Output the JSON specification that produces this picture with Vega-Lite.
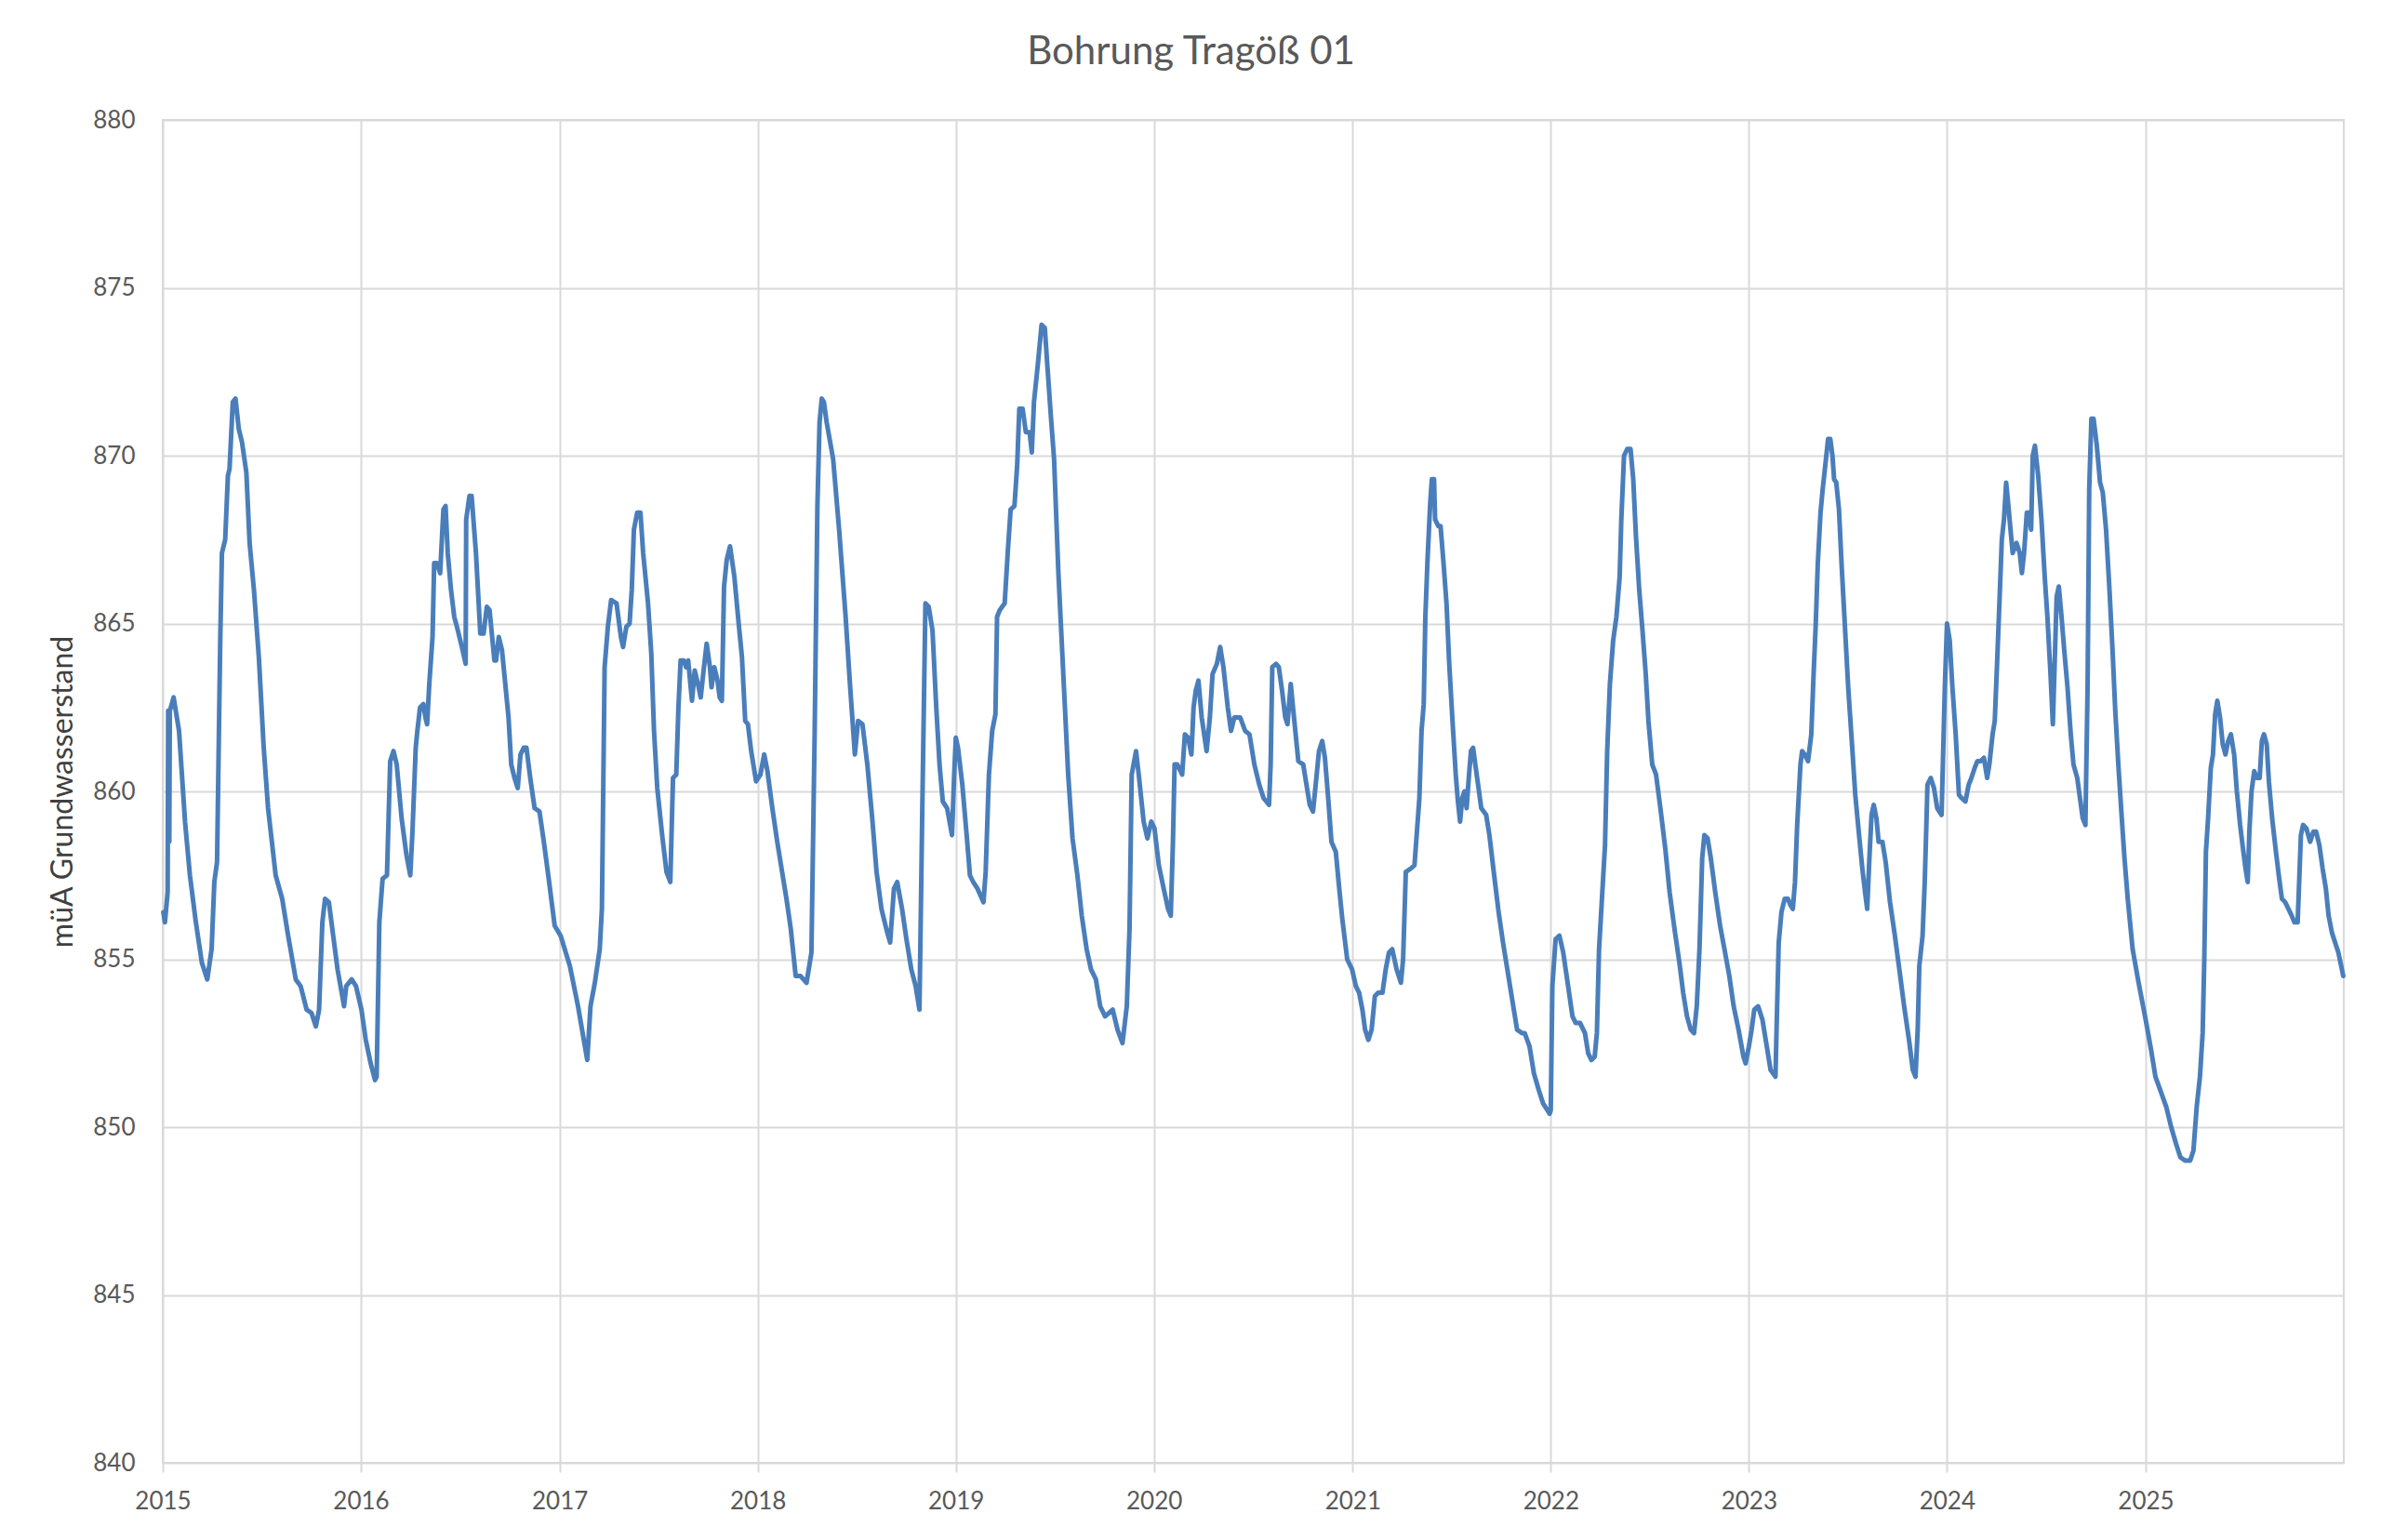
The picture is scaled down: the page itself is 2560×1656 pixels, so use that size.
{
  "$schema": "https://vega.github.io/schema/vega-lite/v6.json",
  "autosize": {"type": "none"},
  "width": 2345,
  "height": 1444,
  "padding": {"left": 175, "top": 129, "right": 40, "bottom": 83},
  "background": "#ffffff",
  "title": {
    "text": "Bohrung Tragöß 01",
    "font": "Lato",
    "fontSize": 42,
    "fontWeight": "normal",
    "color": "#595959",
    "anchor": "middle",
    "dx": -67,
    "offset": 5,
    "baseline": "alphabetic"
  },
  "data": {
    "values": [
      {"Datum": "2015-01-02", "Wasserstand": 856.4},
      {"Datum": "2015-01-05", "Wasserstand": 856.1},
      {"Datum": "2015-01-10", "Wasserstand": 857.0},
      {"Datum": "2015-01-11", "Wasserstand": 862.4},
      {"Datum": "2015-01-13", "Wasserstand": 858.5},
      {"Datum": "2015-01-14", "Wasserstand": 862.4},
      {"Datum": "2015-01-21", "Wasserstand": 862.8},
      {"Datum": "2015-01-31", "Wasserstand": 861.8},
      {"Datum": "2015-02-11", "Wasserstand": 859.1},
      {"Datum": "2015-02-20", "Wasserstand": 857.5},
      {"Datum": "2015-03-03", "Wasserstand": 856.1},
      {"Datum": "2015-03-14", "Wasserstand": 854.9},
      {"Datum": "2015-03-24", "Wasserstand": 854.4},
      {"Datum": "2015-04-01", "Wasserstand": 855.3},
      {"Datum": "2015-04-06", "Wasserstand": 857.3},
      {"Datum": "2015-04-11", "Wasserstand": 857.9},
      {"Datum": "2015-04-17", "Wasserstand": 864.6},
      {"Datum": "2015-04-20", "Wasserstand": 867.1},
      {"Datum": "2015-04-26", "Wasserstand": 867.5},
      {"Datum": "2015-05-01", "Wasserstand": 869.4},
      {"Datum": "2015-05-04", "Wasserstand": 869.6},
      {"Datum": "2015-05-10", "Wasserstand": 871.6},
      {"Datum": "2015-05-15", "Wasserstand": 871.7},
      {"Datum": "2015-05-21", "Wasserstand": 870.8},
      {"Datum": "2015-05-27", "Wasserstand": 870.4},
      {"Datum": "2015-06-04", "Wasserstand": 869.5},
      {"Datum": "2015-06-10", "Wasserstand": 867.4},
      {"Datum": "2015-06-18", "Wasserstand": 866.0},
      {"Datum": "2015-06-27", "Wasserstand": 864.0},
      {"Datum": "2015-07-06", "Wasserstand": 861.3},
      {"Datum": "2015-07-14", "Wasserstand": 859.5},
      {"Datum": "2015-07-28", "Wasserstand": 857.5},
      {"Datum": "2015-08-09", "Wasserstand": 856.8},
      {"Datum": "2015-08-20", "Wasserstand": 855.7},
      {"Datum": "2015-09-03", "Wasserstand": 854.4},
      {"Datum": "2015-09-12", "Wasserstand": 854.2},
      {"Datum": "2015-09-23", "Wasserstand": 853.5},
      {"Datum": "2015-10-02", "Wasserstand": 853.4},
      {"Datum": "2015-10-10", "Wasserstand": 853.0},
      {"Datum": "2015-10-16", "Wasserstand": 853.5},
      {"Datum": "2015-10-22", "Wasserstand": 856.1},
      {"Datum": "2015-10-27", "Wasserstand": 856.8},
      {"Datum": "2015-11-03", "Wasserstand": 856.7},
      {"Datum": "2015-11-11", "Wasserstand": 855.7},
      {"Datum": "2015-11-19", "Wasserstand": 854.7},
      {"Datum": "2015-12-01", "Wasserstand": 853.6},
      {"Datum": "2015-12-05", "Wasserstand": 854.2},
      {"Datum": "2015-12-15", "Wasserstand": 854.4},
      {"Datum": "2015-12-23", "Wasserstand": 854.2},
      {"Datum": "2016-01-02", "Wasserstand": 853.5},
      {"Datum": "2016-01-10", "Wasserstand": 852.6},
      {"Datum": "2016-01-19", "Wasserstand": 851.9},
      {"Datum": "2016-01-27", "Wasserstand": 851.4},
      {"Datum": "2016-01-30", "Wasserstand": 851.5},
      {"Datum": "2016-02-04", "Wasserstand": 856.1},
      {"Datum": "2016-02-10", "Wasserstand": 857.4},
      {"Datum": "2016-02-18", "Wasserstand": 857.5},
      {"Datum": "2016-02-24", "Wasserstand": 860.9},
      {"Datum": "2016-03-01", "Wasserstand": 861.2},
      {"Datum": "2016-03-07", "Wasserstand": 860.8},
      {"Datum": "2016-03-16", "Wasserstand": 859.2},
      {"Datum": "2016-03-25", "Wasserstand": 858.1},
      {"Datum": "2016-04-01", "Wasserstand": 857.5},
      {"Datum": "2016-04-05", "Wasserstand": 858.8},
      {"Datum": "2016-04-11", "Wasserstand": 861.3},
      {"Datum": "2016-04-14", "Wasserstand": 861.8},
      {"Datum": "2016-04-19", "Wasserstand": 862.5},
      {"Datum": "2016-04-25", "Wasserstand": 862.6},
      {"Datum": "2016-04-29", "Wasserstand": 862.2},
      {"Datum": "2016-05-02", "Wasserstand": 862.0},
      {"Datum": "2016-05-06", "Wasserstand": 863.2},
      {"Datum": "2016-05-12", "Wasserstand": 864.6},
      {"Datum": "2016-05-15", "Wasserstand": 866.8},
      {"Datum": "2016-05-20", "Wasserstand": 866.8},
      {"Datum": "2016-05-26", "Wasserstand": 866.5},
      {"Datum": "2016-06-01", "Wasserstand": 868.4},
      {"Datum": "2016-06-05", "Wasserstand": 868.5},
      {"Datum": "2016-06-09", "Wasserstand": 867.1},
      {"Datum": "2016-06-15", "Wasserstand": 866.0},
      {"Datum": "2016-06-21", "Wasserstand": 865.2},
      {"Datum": "2016-06-26", "Wasserstand": 864.9},
      {"Datum": "2016-07-05", "Wasserstand": 864.3},
      {"Datum": "2016-07-12", "Wasserstand": 863.8},
      {"Datum": "2016-07-13", "Wasserstand": 868.1},
      {"Datum": "2016-07-19", "Wasserstand": 868.8},
      {"Datum": "2016-07-23", "Wasserstand": 868.8},
      {"Datum": "2016-07-31", "Wasserstand": 867.1},
      {"Datum": "2016-08-08", "Wasserstand": 864.7},
      {"Datum": "2016-08-14", "Wasserstand": 864.7},
      {"Datum": "2016-08-20", "Wasserstand": 865.5},
      {"Datum": "2016-08-25", "Wasserstand": 865.4},
      {"Datum": "2016-09-03", "Wasserstand": 863.9},
      {"Datum": "2016-09-06", "Wasserstand": 863.9},
      {"Datum": "2016-09-11", "Wasserstand": 864.6},
      {"Datum": "2016-09-17", "Wasserstand": 864.2},
      {"Datum": "2016-09-23", "Wasserstand": 863.2},
      {"Datum": "2016-09-29", "Wasserstand": 862.2},
      {"Datum": "2016-10-04", "Wasserstand": 860.8},
      {"Datum": "2016-10-10", "Wasserstand": 860.4},
      {"Datum": "2016-10-16", "Wasserstand": 860.1},
      {"Datum": "2016-10-21", "Wasserstand": 861.1},
      {"Datum": "2016-10-27", "Wasserstand": 861.3},
      {"Datum": "2016-11-01", "Wasserstand": 861.3},
      {"Datum": "2016-11-08", "Wasserstand": 860.4},
      {"Datum": "2016-11-16", "Wasserstand": 859.5},
      {"Datum": "2016-11-25", "Wasserstand": 859.4},
      {"Datum": "2016-12-03", "Wasserstand": 858.5},
      {"Datum": "2016-12-12", "Wasserstand": 857.4},
      {"Datum": "2016-12-23", "Wasserstand": 856.0},
      {"Datum": "2017-01-03", "Wasserstand": 855.7},
      {"Datum": "2017-01-20", "Wasserstand": 854.8},
      {"Datum": "2017-02-04", "Wasserstand": 853.6},
      {"Datum": "2017-02-21", "Wasserstand": 852.0},
      {"Datum": "2017-02-27", "Wasserstand": 853.6},
      {"Datum": "2017-03-07", "Wasserstand": 854.3},
      {"Datum": "2017-03-16", "Wasserstand": 855.3},
      {"Datum": "2017-03-20", "Wasserstand": 856.5},
      {"Datum": "2017-03-25", "Wasserstand": 863.7},
      {"Datum": "2017-03-31", "Wasserstand": 864.9},
      {"Datum": "2017-04-06", "Wasserstand": 865.7},
      {"Datum": "2017-04-16", "Wasserstand": 865.6},
      {"Datum": "2017-04-24", "Wasserstand": 864.6},
      {"Datum": "2017-04-28", "Wasserstand": 864.3},
      {"Datum": "2017-05-04", "Wasserstand": 864.9},
      {"Datum": "2017-05-10", "Wasserstand": 865.0},
      {"Datum": "2017-05-14", "Wasserstand": 866.0},
      {"Datum": "2017-05-18", "Wasserstand": 867.8},
      {"Datum": "2017-05-24", "Wasserstand": 868.3},
      {"Datum": "2017-05-30", "Wasserstand": 868.3},
      {"Datum": "2017-06-04", "Wasserstand": 867.1},
      {"Datum": "2017-06-13", "Wasserstand": 865.6},
      {"Datum": "2017-06-19", "Wasserstand": 864.1},
      {"Datum": "2017-06-24", "Wasserstand": 861.8},
      {"Datum": "2017-06-30", "Wasserstand": 860.1},
      {"Datum": "2017-07-09", "Wasserstand": 858.7},
      {"Datum": "2017-07-17", "Wasserstand": 857.6},
      {"Datum": "2017-07-24", "Wasserstand": 857.3},
      {"Datum": "2017-07-29", "Wasserstand": 860.4},
      {"Datum": "2017-08-04", "Wasserstand": 860.5},
      {"Datum": "2017-08-08", "Wasserstand": 862.5},
      {"Datum": "2017-08-12", "Wasserstand": 863.9},
      {"Datum": "2017-08-18", "Wasserstand": 863.9},
      {"Datum": "2017-08-22", "Wasserstand": 863.7},
      {"Datum": "2017-08-26", "Wasserstand": 863.9},
      {"Datum": "2017-08-30", "Wasserstand": 863.2},
      {"Datum": "2017-09-02", "Wasserstand": 862.7},
      {"Datum": "2017-09-07", "Wasserstand": 863.6},
      {"Datum": "2017-09-13", "Wasserstand": 863.2},
      {"Datum": "2017-09-18", "Wasserstand": 862.8},
      {"Datum": "2017-09-24", "Wasserstand": 863.7},
      {"Datum": "2017-09-29", "Wasserstand": 864.4},
      {"Datum": "2017-10-05", "Wasserstand": 863.7},
      {"Datum": "2017-10-08", "Wasserstand": 863.1},
      {"Datum": "2017-10-13", "Wasserstand": 863.7},
      {"Datum": "2017-10-19", "Wasserstand": 863.3},
      {"Datum": "2017-10-23", "Wasserstand": 862.8},
      {"Datum": "2017-10-27", "Wasserstand": 862.7},
      {"Datum": "2017-10-31", "Wasserstand": 866.1},
      {"Datum": "2017-11-05", "Wasserstand": 866.9},
      {"Datum": "2017-11-11", "Wasserstand": 867.3},
      {"Datum": "2017-11-19", "Wasserstand": 866.4},
      {"Datum": "2017-11-27", "Wasserstand": 865.0},
      {"Datum": "2017-12-03", "Wasserstand": 864.0},
      {"Datum": "2017-12-09", "Wasserstand": 862.1},
      {"Datum": "2017-12-14", "Wasserstand": 862.0},
      {"Datum": "2017-12-20", "Wasserstand": 861.2},
      {"Datum": "2017-12-29", "Wasserstand": 860.3},
      {"Datum": "2018-01-06", "Wasserstand": 860.5},
      {"Datum": "2018-01-13", "Wasserstand": 861.1},
      {"Datum": "2018-01-19", "Wasserstand": 860.6},
      {"Datum": "2018-01-28", "Wasserstand": 859.5},
      {"Datum": "2018-02-06", "Wasserstand": 858.5},
      {"Datum": "2018-02-14", "Wasserstand": 857.7},
      {"Datum": "2018-02-23", "Wasserstand": 856.8},
      {"Datum": "2018-03-03", "Wasserstand": 855.9},
      {"Datum": "2018-03-12", "Wasserstand": 854.5},
      {"Datum": "2018-03-21", "Wasserstand": 854.5},
      {"Datum": "2018-04-01", "Wasserstand": 854.3},
      {"Datum": "2018-04-10", "Wasserstand": 855.2},
      {"Datum": "2018-04-16", "Wasserstand": 861.8},
      {"Datum": "2018-04-21", "Wasserstand": 868.5},
      {"Datum": "2018-04-25", "Wasserstand": 871.0},
      {"Datum": "2018-04-29", "Wasserstand": 871.7},
      {"Datum": "2018-05-03", "Wasserstand": 871.6},
      {"Datum": "2018-05-08", "Wasserstand": 871.0},
      {"Datum": "2018-05-20", "Wasserstand": 869.9},
      {"Datum": "2018-05-31", "Wasserstand": 867.8},
      {"Datum": "2018-06-12", "Wasserstand": 865.2},
      {"Datum": "2018-06-20", "Wasserstand": 863.2},
      {"Datum": "2018-06-29", "Wasserstand": 861.1},
      {"Datum": "2018-07-05", "Wasserstand": 862.1},
      {"Datum": "2018-07-13", "Wasserstand": 862.0},
      {"Datum": "2018-07-22", "Wasserstand": 860.8},
      {"Datum": "2018-07-31", "Wasserstand": 859.2},
      {"Datum": "2018-08-08", "Wasserstand": 857.6},
      {"Datum": "2018-08-17", "Wasserstand": 856.5},
      {"Datum": "2018-08-26", "Wasserstand": 855.9},
      {"Datum": "2018-09-02", "Wasserstand": 855.5},
      {"Datum": "2018-09-09", "Wasserstand": 857.1},
      {"Datum": "2018-09-15", "Wasserstand": 857.3},
      {"Datum": "2018-09-24", "Wasserstand": 856.5},
      {"Datum": "2018-10-02", "Wasserstand": 855.6},
      {"Datum": "2018-10-11", "Wasserstand": 854.7},
      {"Datum": "2018-10-19", "Wasserstand": 854.2},
      {"Datum": "2018-10-26", "Wasserstand": 853.5},
      {"Datum": "2018-10-31", "Wasserstand": 859.2},
      {"Datum": "2018-11-06", "Wasserstand": 865.6},
      {"Datum": "2018-11-12", "Wasserstand": 865.5},
      {"Datum": "2018-11-19", "Wasserstand": 864.8},
      {"Datum": "2018-11-26", "Wasserstand": 862.5},
      {"Datum": "2018-12-02", "Wasserstand": 860.8},
      {"Datum": "2018-12-08", "Wasserstand": 859.7},
      {"Datum": "2018-12-16", "Wasserstand": 859.5},
      {"Datum": "2018-12-25", "Wasserstand": 858.7},
      {"Datum": "2018-12-29", "Wasserstand": 860.5},
      {"Datum": "2019-01-01", "Wasserstand": 861.6},
      {"Datum": "2019-01-05", "Wasserstand": 861.3},
      {"Datum": "2019-01-13", "Wasserstand": 860.2},
      {"Datum": "2019-01-22", "Wasserstand": 858.5},
      {"Datum": "2019-01-27", "Wasserstand": 857.5},
      {"Datum": "2019-02-02", "Wasserstand": 857.3},
      {"Datum": "2019-02-10", "Wasserstand": 857.1},
      {"Datum": "2019-02-21", "Wasserstand": 856.7},
      {"Datum": "2019-02-25", "Wasserstand": 857.6},
      {"Datum": "2019-03-03", "Wasserstand": 860.5},
      {"Datum": "2019-03-09", "Wasserstand": 861.8},
      {"Datum": "2019-03-15", "Wasserstand": 862.3},
      {"Datum": "2019-03-18", "Wasserstand": 865.2},
      {"Datum": "2019-03-23", "Wasserstand": 865.4},
      {"Datum": "2019-04-01", "Wasserstand": 865.6},
      {"Datum": "2019-04-07", "Wasserstand": 867.2},
      {"Datum": "2019-04-12", "Wasserstand": 868.4},
      {"Datum": "2019-04-19", "Wasserstand": 868.5},
      {"Datum": "2019-04-24", "Wasserstand": 869.7},
      {"Datum": "2019-04-28", "Wasserstand": 871.4},
      {"Datum": "2019-05-04", "Wasserstand": 871.4},
      {"Datum": "2019-05-10", "Wasserstand": 870.7},
      {"Datum": "2019-05-17", "Wasserstand": 870.7},
      {"Datum": "2019-05-21", "Wasserstand": 870.1},
      {"Datum": "2019-05-25", "Wasserstand": 871.6},
      {"Datum": "2019-06-01", "Wasserstand": 872.7},
      {"Datum": "2019-06-08", "Wasserstand": 873.9},
      {"Datum": "2019-06-14", "Wasserstand": 873.8},
      {"Datum": "2019-06-19", "Wasserstand": 872.6},
      {"Datum": "2019-06-25", "Wasserstand": 871.2},
      {"Datum": "2019-07-01", "Wasserstand": 869.9},
      {"Datum": "2019-07-05", "Wasserstand": 868.2},
      {"Datum": "2019-07-09", "Wasserstand": 866.5},
      {"Datum": "2019-07-15", "Wasserstand": 864.5},
      {"Datum": "2019-07-21", "Wasserstand": 862.5},
      {"Datum": "2019-07-27", "Wasserstand": 860.5},
      {"Datum": "2019-08-04", "Wasserstand": 858.6},
      {"Datum": "2019-08-13", "Wasserstand": 857.5},
      {"Datum": "2019-08-21", "Wasserstand": 856.3},
      {"Datum": "2019-08-30", "Wasserstand": 855.3},
      {"Datum": "2019-09-07", "Wasserstand": 854.7},
      {"Datum": "2019-09-16", "Wasserstand": 854.4},
      {"Datum": "2019-09-24", "Wasserstand": 853.6},
      {"Datum": "2019-10-03", "Wasserstand": 853.3},
      {"Datum": "2019-10-10", "Wasserstand": 853.4},
      {"Datum": "2019-10-17", "Wasserstand": 853.5},
      {"Datum": "2019-10-26", "Wasserstand": 852.9},
      {"Datum": "2019-11-04", "Wasserstand": 852.5},
      {"Datum": "2019-11-12", "Wasserstand": 853.6},
      {"Datum": "2019-11-17", "Wasserstand": 855.9},
      {"Datum": "2019-11-21", "Wasserstand": 860.5},
      {"Datum": "2019-11-29", "Wasserstand": 861.2},
      {"Datum": "2019-12-04", "Wasserstand": 860.5},
      {"Datum": "2019-12-13", "Wasserstand": 859.1},
      {"Datum": "2019-12-20", "Wasserstand": 858.6},
      {"Datum": "2019-12-27", "Wasserstand": 859.1},
      {"Datum": "2020-01-02", "Wasserstand": 858.9},
      {"Datum": "2020-01-10", "Wasserstand": 857.8},
      {"Datum": "2020-01-19", "Wasserstand": 857.1},
      {"Datum": "2020-01-27", "Wasserstand": 856.5},
      {"Datum": "2020-02-01", "Wasserstand": 856.3},
      {"Datum": "2020-02-05", "Wasserstand": 858.5},
      {"Datum": "2020-02-08", "Wasserstand": 860.8},
      {"Datum": "2020-02-13", "Wasserstand": 860.8},
      {"Datum": "2020-02-22", "Wasserstand": 860.5},
      {"Datum": "2020-02-27", "Wasserstand": 861.7},
      {"Datum": "2020-03-04", "Wasserstand": 861.6},
      {"Datum": "2020-03-10", "Wasserstand": 861.1},
      {"Datum": "2020-03-14", "Wasserstand": 862.5},
      {"Datum": "2020-03-18", "Wasserstand": 863.0},
      {"Datum": "2020-03-23", "Wasserstand": 863.3},
      {"Datum": "2020-03-29", "Wasserstand": 862.2},
      {"Datum": "2020-04-07", "Wasserstand": 861.2},
      {"Datum": "2020-04-13", "Wasserstand": 862.2},
      {"Datum": "2020-04-18", "Wasserstand": 863.5},
      {"Datum": "2020-04-26", "Wasserstand": 863.8},
      {"Datum": "2020-05-02", "Wasserstand": 864.3},
      {"Datum": "2020-05-08", "Wasserstand": 863.7},
      {"Datum": "2020-05-16", "Wasserstand": 862.5},
      {"Datum": "2020-05-22", "Wasserstand": 861.8},
      {"Datum": "2020-05-28", "Wasserstand": 862.2},
      {"Datum": "2020-06-08", "Wasserstand": 862.2},
      {"Datum": "2020-06-17", "Wasserstand": 861.8},
      {"Datum": "2020-06-25", "Wasserstand": 861.7},
      {"Datum": "2020-07-04", "Wasserstand": 860.8},
      {"Datum": "2020-07-13", "Wasserstand": 860.2},
      {"Datum": "2020-07-21", "Wasserstand": 859.8},
      {"Datum": "2020-07-31", "Wasserstand": 859.6},
      {"Datum": "2020-08-03", "Wasserstand": 860.8},
      {"Datum": "2020-08-06", "Wasserstand": 863.7},
      {"Datum": "2020-08-13", "Wasserstand": 863.8},
      {"Datum": "2020-08-18", "Wasserstand": 863.7},
      {"Datum": "2020-08-24", "Wasserstand": 863.0},
      {"Datum": "2020-08-30", "Wasserstand": 862.2},
      {"Datum": "2020-09-03", "Wasserstand": 862.0},
      {"Datum": "2020-09-09", "Wasserstand": 863.2},
      {"Datum": "2020-09-15", "Wasserstand": 862.2},
      {"Datum": "2020-09-23", "Wasserstand": 860.9},
      {"Datum": "2020-10-02", "Wasserstand": 860.8},
      {"Datum": "2020-10-08", "Wasserstand": 860.2},
      {"Datum": "2020-10-14", "Wasserstand": 859.6},
      {"Datum": "2020-10-20", "Wasserstand": 859.4},
      {"Datum": "2020-10-25", "Wasserstand": 860.2},
      {"Datum": "2020-10-31", "Wasserstand": 861.2},
      {"Datum": "2020-11-06", "Wasserstand": 861.5},
      {"Datum": "2020-11-11", "Wasserstand": 861.0},
      {"Datum": "2020-11-17", "Wasserstand": 859.8},
      {"Datum": "2020-11-23", "Wasserstand": 858.5},
      {"Datum": "2020-12-01", "Wasserstand": 858.2},
      {"Datum": "2020-12-08", "Wasserstand": 857.0},
      {"Datum": "2020-12-13", "Wasserstand": 856.2},
      {"Datum": "2020-12-22", "Wasserstand": 855.0},
      {"Datum": "2020-12-31", "Wasserstand": 854.7},
      {"Datum": "2021-01-07", "Wasserstand": 854.2},
      {"Datum": "2021-01-13", "Wasserstand": 854.0},
      {"Datum": "2021-01-19", "Wasserstand": 853.5},
      {"Datum": "2021-01-24", "Wasserstand": 852.9},
      {"Datum": "2021-01-30", "Wasserstand": 852.6},
      {"Datum": "2021-02-05", "Wasserstand": 852.9},
      {"Datum": "2021-02-11", "Wasserstand": 853.9},
      {"Datum": "2021-02-17", "Wasserstand": 854.0},
      {"Datum": "2021-02-25", "Wasserstand": 854.0},
      {"Datum": "2021-03-03", "Wasserstand": 854.7},
      {"Datum": "2021-03-09", "Wasserstand": 855.2},
      {"Datum": "2021-03-15", "Wasserstand": 855.3},
      {"Datum": "2021-03-23", "Wasserstand": 854.7},
      {"Datum": "2021-03-31", "Wasserstand": 854.3},
      {"Datum": "2021-04-04", "Wasserstand": 855.0},
      {"Datum": "2021-04-09", "Wasserstand": 857.6},
      {"Datum": "2021-04-18", "Wasserstand": 857.7},
      {"Datum": "2021-04-25", "Wasserstand": 857.8},
      {"Datum": "2021-04-29", "Wasserstand": 858.7},
      {"Datum": "2021-05-04", "Wasserstand": 859.8},
      {"Datum": "2021-05-08", "Wasserstand": 861.8},
      {"Datum": "2021-05-12", "Wasserstand": 862.6},
      {"Datum": "2021-05-15", "Wasserstand": 865.2},
      {"Datum": "2021-05-19", "Wasserstand": 866.9},
      {"Datum": "2021-05-24", "Wasserstand": 868.6},
      {"Datum": "2021-05-27", "Wasserstand": 869.3},
      {"Datum": "2021-05-31", "Wasserstand": 869.3},
      {"Datum": "2021-06-02", "Wasserstand": 868.1},
      {"Datum": "2021-06-08", "Wasserstand": 867.9},
      {"Datum": "2021-06-12", "Wasserstand": 867.9},
      {"Datum": "2021-06-17", "Wasserstand": 866.9},
      {"Datum": "2021-06-23", "Wasserstand": 865.6},
      {"Datum": "2021-06-28", "Wasserstand": 863.8},
      {"Datum": "2021-07-04", "Wasserstand": 862.1},
      {"Datum": "2021-07-10", "Wasserstand": 860.5},
      {"Datum": "2021-07-14", "Wasserstand": 859.7},
      {"Datum": "2021-07-18", "Wasserstand": 859.1},
      {"Datum": "2021-07-22", "Wasserstand": 859.8},
      {"Datum": "2021-07-26", "Wasserstand": 860.0},
      {"Datum": "2021-07-30", "Wasserstand": 859.5},
      {"Datum": "2021-08-03", "Wasserstand": 860.4},
      {"Datum": "2021-08-07", "Wasserstand": 861.2},
      {"Datum": "2021-08-11", "Wasserstand": 861.3},
      {"Datum": "2021-08-15", "Wasserstand": 860.8},
      {"Datum": "2021-08-21", "Wasserstand": 860.1},
      {"Datum": "2021-08-26", "Wasserstand": 859.5},
      {"Datum": "2021-09-04", "Wasserstand": 859.3},
      {"Datum": "2021-09-10", "Wasserstand": 858.7},
      {"Datum": "2021-09-18", "Wasserstand": 857.6},
      {"Datum": "2021-09-27", "Wasserstand": 856.4},
      {"Datum": "2021-10-05", "Wasserstand": 855.5},
      {"Datum": "2021-10-14", "Wasserstand": 854.6},
      {"Datum": "2021-10-22", "Wasserstand": 853.8},
      {"Datum": "2021-10-31", "Wasserstand": 852.9},
      {"Datum": "2021-11-09", "Wasserstand": 852.8},
      {"Datum": "2021-11-14", "Wasserstand": 852.8},
      {"Datum": "2021-11-23", "Wasserstand": 852.4},
      {"Datum": "2021-12-01", "Wasserstand": 851.6},
      {"Datum": "2021-12-10", "Wasserstand": 851.1},
      {"Datum": "2021-12-18", "Wasserstand": 850.7},
      {"Datum": "2021-12-30", "Wasserstand": 850.4},
      {"Datum": "2022-01-01", "Wasserstand": 850.5},
      {"Datum": "2022-01-04", "Wasserstand": 854.2},
      {"Datum": "2022-01-10", "Wasserstand": 855.6},
      {"Datum": "2022-01-17", "Wasserstand": 855.7},
      {"Datum": "2022-01-24", "Wasserstand": 855.2},
      {"Datum": "2022-02-02", "Wasserstand": 854.2},
      {"Datum": "2022-02-10", "Wasserstand": 853.3},
      {"Datum": "2022-02-16", "Wasserstand": 853.1},
      {"Datum": "2022-02-24", "Wasserstand": 853.1},
      {"Datum": "2022-03-05", "Wasserstand": 852.8},
      {"Datum": "2022-03-11", "Wasserstand": 852.2},
      {"Datum": "2022-03-17", "Wasserstand": 852.0},
      {"Datum": "2022-03-23", "Wasserstand": 852.1},
      {"Datum": "2022-03-27", "Wasserstand": 852.8},
      {"Datum": "2022-03-31", "Wasserstand": 855.3},
      {"Datum": "2022-04-06", "Wasserstand": 857.0},
      {"Datum": "2022-04-11", "Wasserstand": 858.4},
      {"Datum": "2022-04-15", "Wasserstand": 861.2},
      {"Datum": "2022-04-20", "Wasserstand": 863.2},
      {"Datum": "2022-04-26", "Wasserstand": 864.5},
      {"Datum": "2022-05-02", "Wasserstand": 865.2},
      {"Datum": "2022-05-08", "Wasserstand": 866.4},
      {"Datum": "2022-05-11", "Wasserstand": 868.1},
      {"Datum": "2022-05-16", "Wasserstand": 870.0},
      {"Datum": "2022-05-22", "Wasserstand": 870.2},
      {"Datum": "2022-05-28", "Wasserstand": 870.2},
      {"Datum": "2022-06-02", "Wasserstand": 869.3},
      {"Datum": "2022-06-07", "Wasserstand": 867.6},
      {"Datum": "2022-06-13", "Wasserstand": 866.0},
      {"Datum": "2022-06-19", "Wasserstand": 864.8},
      {"Datum": "2022-06-25", "Wasserstand": 863.5},
      {"Datum": "2022-06-30", "Wasserstand": 862.1},
      {"Datum": "2022-07-07", "Wasserstand": 860.8},
      {"Datum": "2022-07-14", "Wasserstand": 860.5},
      {"Datum": "2022-07-22", "Wasserstand": 859.5},
      {"Datum": "2022-07-31", "Wasserstand": 858.3},
      {"Datum": "2022-08-08", "Wasserstand": 857.0},
      {"Datum": "2022-08-17", "Wasserstand": 855.9},
      {"Datum": "2022-08-26", "Wasserstand": 854.9},
      {"Datum": "2022-09-02", "Wasserstand": 854.0},
      {"Datum": "2022-09-09", "Wasserstand": 853.3},
      {"Datum": "2022-09-16", "Wasserstand": 852.9},
      {"Datum": "2022-09-22", "Wasserstand": 852.8},
      {"Datum": "2022-09-27", "Wasserstand": 853.6},
      {"Datum": "2022-10-02", "Wasserstand": 855.3},
      {"Datum": "2022-10-07", "Wasserstand": 858.0},
      {"Datum": "2022-10-11", "Wasserstand": 858.7},
      {"Datum": "2022-10-17", "Wasserstand": 858.6},
      {"Datum": "2022-10-23", "Wasserstand": 858.0},
      {"Datum": "2022-10-31", "Wasserstand": 857.0},
      {"Datum": "2022-11-09", "Wasserstand": 856.0},
      {"Datum": "2022-11-17", "Wasserstand": 855.3},
      {"Datum": "2022-11-26", "Wasserstand": 854.5},
      {"Datum": "2022-12-04", "Wasserstand": 853.6},
      {"Datum": "2022-12-13", "Wasserstand": 852.9},
      {"Datum": "2022-12-22", "Wasserstand": 852.1},
      {"Datum": "2022-12-26", "Wasserstand": 851.9},
      {"Datum": "2023-01-01", "Wasserstand": 852.4},
      {"Datum": "2023-01-06", "Wasserstand": 852.9},
      {"Datum": "2023-01-11", "Wasserstand": 853.5},
      {"Datum": "2023-01-18", "Wasserstand": 853.6},
      {"Datum": "2023-01-26", "Wasserstand": 853.2},
      {"Datum": "2023-02-04", "Wasserstand": 852.3},
      {"Datum": "2023-02-10", "Wasserstand": 851.7},
      {"Datum": "2023-02-19", "Wasserstand": 851.5},
      {"Datum": "2023-02-21", "Wasserstand": 852.9},
      {"Datum": "2023-02-25", "Wasserstand": 855.5},
      {"Datum": "2023-03-02", "Wasserstand": 856.4},
      {"Datum": "2023-03-08", "Wasserstand": 856.8},
      {"Datum": "2023-03-14", "Wasserstand": 856.8},
      {"Datum": "2023-03-19", "Wasserstand": 856.6},
      {"Datum": "2023-03-23", "Wasserstand": 856.5},
      {"Datum": "2023-03-27", "Wasserstand": 857.3},
      {"Datum": "2023-03-31", "Wasserstand": 859.0},
      {"Datum": "2023-04-06", "Wasserstand": 860.8},
      {"Datum": "2023-04-09", "Wasserstand": 861.2},
      {"Datum": "2023-04-14", "Wasserstand": 861.1},
      {"Datum": "2023-04-20", "Wasserstand": 860.9},
      {"Datum": "2023-04-26", "Wasserstand": 861.7},
      {"Datum": "2023-04-30", "Wasserstand": 863.4},
      {"Datum": "2023-05-04", "Wasserstand": 864.9},
      {"Datum": "2023-05-08", "Wasserstand": 866.8},
      {"Datum": "2023-05-13", "Wasserstand": 868.3},
      {"Datum": "2023-05-17", "Wasserstand": 869.0},
      {"Datum": "2023-05-21", "Wasserstand": 869.6},
      {"Datum": "2023-05-27", "Wasserstand": 870.5},
      {"Datum": "2023-05-31", "Wasserstand": 870.5},
      {"Datum": "2023-06-04", "Wasserstand": 870.0},
      {"Datum": "2023-06-07", "Wasserstand": 869.3},
      {"Datum": "2023-06-11", "Wasserstand": 869.2},
      {"Datum": "2023-06-16", "Wasserstand": 868.4},
      {"Datum": "2023-06-21", "Wasserstand": 866.7},
      {"Datum": "2023-06-27", "Wasserstand": 864.9},
      {"Datum": "2023-07-03", "Wasserstand": 863.1},
      {"Datum": "2023-07-10", "Wasserstand": 861.4},
      {"Datum": "2023-07-16", "Wasserstand": 859.9},
      {"Datum": "2023-07-23", "Wasserstand": 858.7},
      {"Datum": "2023-07-29", "Wasserstand": 857.7},
      {"Datum": "2023-08-03", "Wasserstand": 857.0},
      {"Datum": "2023-08-07", "Wasserstand": 856.5},
      {"Datum": "2023-08-11", "Wasserstand": 858.0},
      {"Datum": "2023-08-15", "Wasserstand": 859.3},
      {"Datum": "2023-08-19", "Wasserstand": 859.6},
      {"Datum": "2023-08-24", "Wasserstand": 859.2},
      {"Datum": "2023-08-28", "Wasserstand": 858.5},
      {"Datum": "2023-09-04", "Wasserstand": 858.5},
      {"Datum": "2023-09-10", "Wasserstand": 857.9},
      {"Datum": "2023-09-18", "Wasserstand": 856.7},
      {"Datum": "2023-09-27", "Wasserstand": 855.7},
      {"Datum": "2023-10-06", "Wasserstand": 854.6},
      {"Datum": "2023-10-14", "Wasserstand": 853.6},
      {"Datum": "2023-10-23", "Wasserstand": 852.6},
      {"Datum": "2023-10-30", "Wasserstand": 851.7},
      {"Datum": "2023-11-04", "Wasserstand": 851.5},
      {"Datum": "2023-11-08", "Wasserstand": 852.9},
      {"Datum": "2023-11-11", "Wasserstand": 854.8},
      {"Datum": "2023-11-17", "Wasserstand": 855.7},
      {"Datum": "2023-11-21", "Wasserstand": 857.3},
      {"Datum": "2023-11-24", "Wasserstand": 859.0},
      {"Datum": "2023-11-26", "Wasserstand": 860.2},
      {"Datum": "2023-12-02", "Wasserstand": 860.4},
      {"Datum": "2023-12-08", "Wasserstand": 860.1},
      {"Datum": "2023-12-14", "Wasserstand": 859.5},
      {"Datum": "2023-12-22", "Wasserstand": 859.3},
      {"Datum": "2023-12-28", "Wasserstand": 863.1},
      {"Datum": "2024-01-01", "Wasserstand": 865.0},
      {"Datum": "2024-01-06", "Wasserstand": 864.5},
      {"Datum": "2024-01-11", "Wasserstand": 863.1},
      {"Datum": "2024-01-17", "Wasserstand": 861.7},
      {"Datum": "2024-01-23", "Wasserstand": 859.9},
      {"Datum": "2024-01-28", "Wasserstand": 859.8},
      {"Datum": "2024-02-04", "Wasserstand": 859.7},
      {"Datum": "2024-02-10", "Wasserstand": 860.2},
      {"Datum": "2024-02-15", "Wasserstand": 860.4},
      {"Datum": "2024-02-21", "Wasserstand": 860.7},
      {"Datum": "2024-02-26", "Wasserstand": 860.9},
      {"Datum": "2024-03-03", "Wasserstand": 860.9},
      {"Datum": "2024-03-09", "Wasserstand": 861.0},
      {"Datum": "2024-03-15", "Wasserstand": 860.4},
      {"Datum": "2024-03-19", "Wasserstand": 860.8},
      {"Datum": "2024-03-25", "Wasserstand": 861.7},
      {"Datum": "2024-03-29", "Wasserstand": 862.1},
      {"Datum": "2024-04-02", "Wasserstand": 863.7},
      {"Datum": "2024-04-07", "Wasserstand": 865.8},
      {"Datum": "2024-04-11", "Wasserstand": 867.5},
      {"Datum": "2024-04-15", "Wasserstand": 868.1},
      {"Datum": "2024-04-19", "Wasserstand": 869.2},
      {"Datum": "2024-04-22", "Wasserstand": 868.7},
      {"Datum": "2024-04-27", "Wasserstand": 867.8},
      {"Datum": "2024-05-01", "Wasserstand": 867.1},
      {"Datum": "2024-05-08", "Wasserstand": 867.4},
      {"Datum": "2024-05-14", "Wasserstand": 867.1},
      {"Datum": "2024-05-18", "Wasserstand": 866.5},
      {"Datum": "2024-05-22", "Wasserstand": 867.1},
      {"Datum": "2024-05-27", "Wasserstand": 868.3},
      {"Datum": "2024-05-31", "Wasserstand": 868.3},
      {"Datum": "2024-06-04", "Wasserstand": 867.8},
      {"Datum": "2024-06-07", "Wasserstand": 870.0},
      {"Datum": "2024-06-11", "Wasserstand": 870.3},
      {"Datum": "2024-06-17", "Wasserstand": 869.4},
      {"Datum": "2024-06-23", "Wasserstand": 868.1},
      {"Datum": "2024-06-29", "Wasserstand": 866.4},
      {"Datum": "2024-07-04", "Wasserstand": 865.2},
      {"Datum": "2024-07-10", "Wasserstand": 863.4},
      {"Datum": "2024-07-14", "Wasserstand": 862.0},
      {"Datum": "2024-07-17", "Wasserstand": 863.6},
      {"Datum": "2024-07-21", "Wasserstand": 865.8},
      {"Datum": "2024-07-25", "Wasserstand": 866.1},
      {"Datum": "2024-07-30", "Wasserstand": 865.2},
      {"Datum": "2024-08-04", "Wasserstand": 864.2},
      {"Datum": "2024-08-10", "Wasserstand": 863.1},
      {"Datum": "2024-08-16", "Wasserstand": 861.7},
      {"Datum": "2024-08-21", "Wasserstand": 860.8},
      {"Datum": "2024-08-28", "Wasserstand": 860.4},
      {"Datum": "2024-09-02", "Wasserstand": 859.8},
      {"Datum": "2024-09-07", "Wasserstand": 859.2},
      {"Datum": "2024-09-12", "Wasserstand": 859.0},
      {"Datum": "2024-09-16", "Wasserstand": 863.1},
      {"Datum": "2024-09-19", "Wasserstand": 869.0},
      {"Datum": "2024-09-23", "Wasserstand": 871.1},
      {"Datum": "2024-09-27", "Wasserstand": 871.1},
      {"Datum": "2024-10-03", "Wasserstand": 870.3},
      {"Datum": "2024-10-09", "Wasserstand": 869.2},
      {"Datum": "2024-10-14", "Wasserstand": 868.9},
      {"Datum": "2024-10-20", "Wasserstand": 867.8},
      {"Datum": "2024-10-26", "Wasserstand": 866.1},
      {"Datum": "2024-11-01", "Wasserstand": 864.2},
      {"Datum": "2024-11-06", "Wasserstand": 862.4},
      {"Datum": "2024-11-12", "Wasserstand": 860.7},
      {"Datum": "2024-11-18", "Wasserstand": 859.2},
      {"Datum": "2024-11-23", "Wasserstand": 858.0},
      {"Datum": "2024-11-29", "Wasserstand": 856.8},
      {"Datum": "2024-12-08", "Wasserstand": 855.3},
      {"Datum": "2024-12-19", "Wasserstand": 854.3},
      {"Datum": "2025-01-01", "Wasserstand": 853.2},
      {"Datum": "2025-01-11", "Wasserstand": 852.3},
      {"Datum": "2025-01-19", "Wasserstand": 851.5},
      {"Datum": "2025-01-28", "Wasserstand": 851.1},
      {"Datum": "2025-02-08", "Wasserstand": 850.6},
      {"Datum": "2025-02-17", "Wasserstand": 850.0},
      {"Datum": "2025-02-26", "Wasserstand": 849.5},
      {"Datum": "2025-03-06", "Wasserstand": 849.1},
      {"Datum": "2025-03-15", "Wasserstand": 849.0},
      {"Datum": "2025-03-24", "Wasserstand": 849.0},
      {"Datum": "2025-03-30", "Wasserstand": 849.3},
      {"Datum": "2025-04-05", "Wasserstand": 850.6},
      {"Datum": "2025-04-11", "Wasserstand": 851.5},
      {"Datum": "2025-04-16", "Wasserstand": 852.8},
      {"Datum": "2025-04-19", "Wasserstand": 855.0},
      {"Datum": "2025-04-22", "Wasserstand": 858.2},
      {"Datum": "2025-04-26", "Wasserstand": 859.2},
      {"Datum": "2025-05-01", "Wasserstand": 860.7},
      {"Datum": "2025-05-05", "Wasserstand": 861.1},
      {"Datum": "2025-05-09", "Wasserstand": 862.3},
      {"Datum": "2025-05-13", "Wasserstand": 862.7},
      {"Datum": "2025-05-18", "Wasserstand": 862.2},
      {"Datum": "2025-05-23", "Wasserstand": 861.4},
      {"Datum": "2025-05-28", "Wasserstand": 861.1},
      {"Datum": "2025-06-02", "Wasserstand": 861.5},
      {"Datum": "2025-06-07", "Wasserstand": 861.7},
      {"Datum": "2025-06-13", "Wasserstand": 861.1},
      {"Datum": "2025-06-18", "Wasserstand": 860.0},
      {"Datum": "2025-06-24", "Wasserstand": 859.0},
      {"Datum": "2025-06-30", "Wasserstand": 858.2},
      {"Datum": "2025-07-04", "Wasserstand": 857.7},
      {"Datum": "2025-07-08", "Wasserstand": 857.3},
      {"Datum": "2025-07-11", "Wasserstand": 858.8},
      {"Datum": "2025-07-15", "Wasserstand": 860.0},
      {"Datum": "2025-07-20", "Wasserstand": 860.6},
      {"Datum": "2025-07-25", "Wasserstand": 860.4},
      {"Datum": "2025-07-30", "Wasserstand": 860.4},
      {"Datum": "2025-08-03", "Wasserstand": 861.5},
      {"Datum": "2025-08-07", "Wasserstand": 861.7},
      {"Datum": "2025-08-12", "Wasserstand": 861.4},
      {"Datum": "2025-08-16", "Wasserstand": 860.3},
      {"Datum": "2025-08-22", "Wasserstand": 859.2},
      {"Datum": "2025-08-29", "Wasserstand": 858.2},
      {"Datum": "2025-09-04", "Wasserstand": 857.4},
      {"Datum": "2025-09-09", "Wasserstand": 856.8},
      {"Datum": "2025-09-15", "Wasserstand": 856.7},
      {"Datum": "2025-09-21", "Wasserstand": 856.5},
      {"Datum": "2025-09-27", "Wasserstand": 856.3},
      {"Datum": "2025-10-02", "Wasserstand": 856.1},
      {"Datum": "2025-10-08", "Wasserstand": 856.1},
      {"Datum": "2025-10-11", "Wasserstand": 857.4},
      {"Datum": "2025-10-14", "Wasserstand": 858.7},
      {"Datum": "2025-10-18", "Wasserstand": 859.0},
      {"Datum": "2025-10-24", "Wasserstand": 858.9},
      {"Datum": "2025-10-31", "Wasserstand": 858.5},
      {"Datum": "2025-11-06", "Wasserstand": 858.8},
      {"Datum": "2025-11-11", "Wasserstand": 858.8},
      {"Datum": "2025-11-17", "Wasserstand": 858.4},
      {"Datum": "2025-11-23", "Wasserstand": 857.7},
      {"Datum": "2025-11-29", "Wasserstand": 857.1},
      {"Datum": "2025-12-04", "Wasserstand": 856.3},
      {"Datum": "2025-12-10", "Wasserstand": 855.8},
      {"Datum": "2025-12-16", "Wasserstand": 855.5},
      {"Datum": "2025-12-22", "Wasserstand": 855.2},
      {"Datum": "2025-12-31", "Wasserstand": 854.5}
    ]
  },
  "mark": {"type": "line", "color": "#4A7EBB", "strokeWidth": 5, "strokeJoin": "round", "strokeCap": "round"},
  "encoding": {
    "x": {
      "field": "Datum",
      "type": "temporal",
      "scale": {
        "type": "utc",
        "domain": [
          {"year": 2015, "month": 1, "date": 1, "utc": true},
          {"year": 2026, "month": 1, "date": 1, "utc": true}
        ]
      },
      "axis": {
        "title": null,
        "format": "%Y",
        "values": [
          {"year": 2015, "utc": true}, {"year": 2016, "utc": true}, {"year": 2017, "utc": true},
          {"year": 2018, "utc": true}, {"year": 2019, "utc": true}, {"year": 2020, "utc": true},
          {"year": 2021, "utc": true}, {"year": 2022, "utc": true}, {"year": 2023, "utc": true},
          {"year": 2024, "utc": true}, {"year": 2025, "utc": true}
        ],
        "domain": false,
        "ticks": true,
        "tickSize": 10,
        "tickColor": "#d9d9d9",
        "tickWidth": 2,
        "grid": true,
        "gridColor": "#d9d9d9",
        "gridWidth": 2,
        "labelFont": "Lato",
        "labelFontSize": 26,
        "labelColor": "#595959",
        "labelPadding": 18,
        "labelFlush": false,
        "labelOverlap": false
      }
    },
    "y": {
      "field": "Wasserstand",
      "type": "quantitative",
      "scale": {"domain": [840, 880], "zero": false, "nice": false},
      "axis": {
        "title": "müA Grundwasserstand",
        "values": [840, 845, 850, 855, 860, 865, 870, 875, 880],
        "domain": false,
        "ticks": false,
        "tickSize": 0,
        "grid": true,
        "gridColor": "#d9d9d9",
        "gridWidth": 2,
        "labelFont": "Lato",
        "labelFontSize": 26,
        "labelColor": "#595959",
        "labelPadding": 30,
        "titleFont": "Lato",
        "titleFontSize": 32,
        "titleFontWeight": "normal",
        "titleColor": "#404040",
        "titleX": -108,
        "titleY": 722,
        "titleAlign": "center",
        "titleBaseline": "middle"
      }
    }
  },
  "config": {
    "view": {"stroke": "#d9d9d9", "strokeWidth": 2}
  }
}
